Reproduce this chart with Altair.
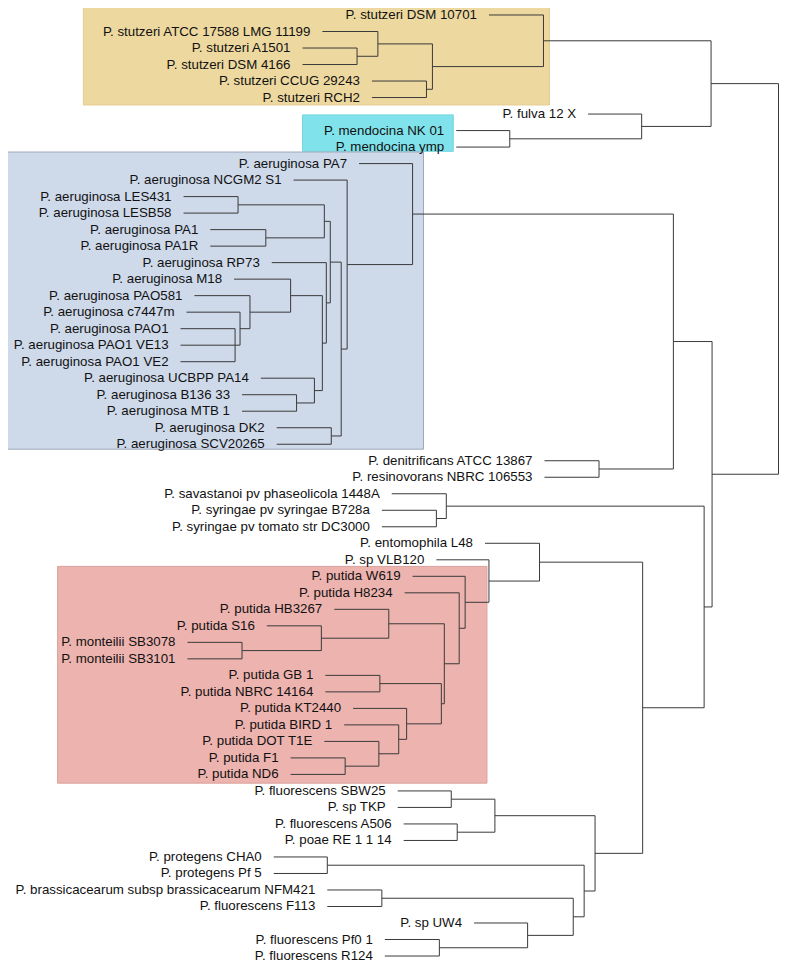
import altair as alt
import pandas as pd

# ---------------- data ----------------
# leaves, top to bottom
leaf_names = [
    "P. stutzeri DSM 10701", "P. stutzeri ATCC 17588 LMG 11199", "P. stutzeri A1501",
    "P. stutzeri DSM 4166", "P. stutzeri CCUG 29243", "P. stutzeri RCH2",
    "P. fulva 12 X", "P. mendocina NK 01", "P. mendocina ymp",
    "P. aeruginosa PA7", "P. aeruginosa NCGM2 S1", "P. aeruginosa LES431",
    "P. aeruginosa LESB58", "P. aeruginosa PA1", "P. aeruginosa PA1R",
    "P. aeruginosa RP73", "P. aeruginosa M18", "P. aeruginosa PAO581",
    "P. aeruginosa c7447m", "P. aeruginosa PAO1", "P. aeruginosa PAO1 VE13",
    "P. aeruginosa PAO1 VE2", "P. aeruginosa UCBPP PA14", "P. aeruginosa B136 33",
    "P. aeruginosa MTB 1", "P. aeruginosa DK2", "P. aeruginosa SCV20265",
    "P. denitrificans ATCC 13867", "P. resinovorans NBRC 106553",
    "P. savastanoi pv phaseolicola 1448A", "P. syringae pv syringae B728a",
    "P. syringae pv tomato str DC3000", "P. entomophila L48", "P. sp VLB120",
    "P. putida W619", "P. putida H8234", "P. putida HB3267", "P. putida S16",
    "P. monteilii SB3078", "P. monteilii SB3101", "P. putida GB 1",
    "P. putida NBRC 14164", "P. putida KT2440", "P. putida BIRD 1",
    "P. putida DOT T1E", "P. putida F1", "P. putida ND6",
    "P. fluorescens SBW25", "P. sp TKP", "P. fluorescens A506", "P. poae RE 1 1 14",
    "P. protegens CHA0", "P. protegens Pf 5",
    "P. brassicacearum subsp brassicacearum NFM421", "P. fluorescens F113",
    "P. sp UW4", "P. fluorescens Pf0 1", "P. fluorescens R124",
]
# distance of each leaf tip from the root
leaf_dist = [
    292, 460, 480, 480, 410, 410,
    192, 325, 325,
    423, 489, 600, 600, 573, 573, 511, 549, 589, 597, 603, 603, 603,
    522, 541, 541, 506, 506,
    236, 236,
    390, 400, 400, 296, 345,
    369, 377, 448, 516, 596, 596, 457, 457, 429, 438, 458, 492, 492,
    384, 384, 378, 378, 509, 509, 455, 455, 307, 397, 397,
]

# internal nodes: name, children, distance from root
node_names = [
    "s1", "s2", "s3", "s4", "s5", "m1", "m2", "top1",
    "a1", "a2", "a3", "a4", "a5", "a6", "a7", "a8", "a9", "a10", "a11",
    "a12", "a13", "a14", "a15", "a16", "d1", "b1",
    "y1", "y2",
    "p1", "p2", "p3", "p4", "p5", "p6", "p7", "p8", "p9", "p10", "p11", "p12", "p13", "p14",
    "f1", "f2", "f3", "f4", "f5", "f6", "f7", "f8", "f9", "f10",
    "g1", "g2", "b2", "root",
]
node_children = [
    ["P. stutzeri A1501", "P. stutzeri DSM 4166"],
    ["P. stutzeri ATCC 17588 LMG 11199", "s1"],
    ["P. stutzeri CCUG 29243", "P. stutzeri RCH2"],
    ["s2", "s3"],
    ["P. stutzeri DSM 10701", "s4"],
    ["P. mendocina NK 01", "P. mendocina ymp"],
    ["P. fulva 12 X", "m1"],
    ["s5", "m2"],
    ["P. aeruginosa LES431", "P. aeruginosa LESB58"],
    ["P. aeruginosa PA1", "P. aeruginosa PA1R"],
    ["a1", "a2"],
    ["P. aeruginosa PAO1", "P. aeruginosa PAO1 VE13", "P. aeruginosa PAO1 VE2"],
    ["P. aeruginosa c7447m", "a4"],
    ["P. aeruginosa PAO581", "a5"],
    ["P. aeruginosa M18", "a6"],
    ["P. aeruginosa B136 33", "P. aeruginosa MTB 1"],
    ["P. aeruginosa UCBPP PA14", "a8"],
    ["a7", "a9"],
    ["P. aeruginosa RP73", "a10"],
    ["a3", "a11"],
    ["P. aeruginosa DK2", "P. aeruginosa SCV20265"],
    ["a12", "a13"],
    ["P. aeruginosa NCGM2 S1", "a14"],
    ["P. aeruginosa PA7", "a15"],
    ["P. denitrificans ATCC 13867", "P. resinovorans NBRC 106553"],
    ["a16", "d1"],
    ["P. syringae pv syringae B728a", "P. syringae pv tomato str DC3000"],
    ["P. savastanoi pv phaseolicola 1448A", "y1"],
    ["P. monteilii SB3078", "P. monteilii SB3101"],
    ["P. putida S16", "p1"],
    ["P. putida HB3267", "p2"],
    ["P. putida GB 1", "P. putida NBRC 14164"],
    ["P. putida F1", "P. putida ND6"],
    ["P. putida DOT T1E", "p5"],
    ["P. putida BIRD 1", "p6"],
    ["P. putida KT2440", "p7"],
    ["p4", "p8"],
    ["p3", "p9"],
    ["P. putida H8234", "p10"],
    ["P. putida W619", "p11"],
    ["P. sp VLB120", "p12"],
    ["P. entomophila L48", "p13"],
    ["P. fluorescens SBW25", "P. sp TKP"],
    ["P. fluorescens A506", "P. poae RE 1 1 14"],
    ["f1", "f2"],
    ["P. protegens CHA0", "P. protegens Pf 5"],
    ["P. brassicacearum subsp brassicacearum NFM421", "P. fluorescens F113"],
    ["P. fluorescens Pf0 1", "P. fluorescens R124"],
    ["P. sp UW4", "f6"],
    ["f5", "f7"],
    ["f4", "f8"],
    ["f3", "f9"],
    ["p14", "f10"],
    ["y2", "g1"],
    ["b1", "g2"],
    ["top1", "b2"],
]
node_dist = [
    425, 404, 355, 349, 237, 271, 138, 68,
    545, 517, 458, 548, 543, 533, 492, 486, 468, 460, 456,
    452, 451, 441, 435, 369, 181, 106,
    345, 335,
    541, 461, 393, 402, 437, 403, 383, 375, 340, 337, 322, 316, 292, 241,
    330, 324, 286, 455, 400, 342, 253, 207, 196, 185,
    137, 75, 67, 0,
]

# shaded clade boxes: distance extents and leaf-row extents
box_names = ["stutzeri", "mendocina", "aeruginosa", "putida"]
box_far = [701, 480, 783, 727]
box_near = [231, 328, 358, 294]
box_top = [-0.8, 6.05, 8.3, 33.4]
box_bottom = [5.45, 8.26, 26.3, 46.53]
box_fill = ["#EDD89F", "#80E2EA", "#CED9EA", "#EDB3AF"]
box_stroke = ["#E3CC8E", "#74D6DE", "#9EA8BA", "#D9A19D"]

# ---------------- build the tree layout ----------------
pos = {}
for i, (n, d) in enumerate(zip(leaf_names, leaf_dist)):
    pos[n] = (d, float(i))
for n, ch, d in zip(node_names, node_children, node_dist):
    ys = [pos[c][1] for c in ch]
    pos[n] = (d, (min(ys) + max(ys)) / 2.0)

segs = []
for n, ch, d in zip(node_names, node_children, node_dist):
    ys = [pos[c][1] for c in ch]
    segs.append({"x": d, "x2": d, "y": min(ys), "y2": max(ys)})
    for c in ch:
        cd, cy = pos[c]
        segs.append({"x": cd, "x2": d, "y": cy, "y2": cy})
seg_df = pd.DataFrame(segs)

leaf_df = pd.DataFrame({"name": leaf_names, "d": leaf_dist,
                        "y": list(range(len(leaf_names)))})
box_df = pd.DataFrame({"name": box_names, "x": box_far, "x2": box_near,
                       "y": box_top, "y2": box_bottom,
                       "fill": box_fill, "stroke": box_stroke})

xscale = alt.Scale(domain=[-0.5, 777], reverse=True, nice=False, zero=False)
yscale = alt.Scale(domain=[-0.424, 57.423], reverse=True, nice=False, zero=False)

boxes = alt.Chart(box_df).mark_rect(clip=True, strokeWidth=1).encode(
    x=alt.X("x:Q", scale=xscale, axis=None),
    x2="x2:Q",
    y=alt.Y("y:Q", scale=yscale, axis=None),
    y2="y2:Q",
    fill=alt.Fill("fill:N", scale=None),
    stroke=alt.Stroke("stroke:N", scale=None),
)

lines = alt.Chart(seg_df).mark_rule(color="#3a3a3a", strokeWidth=1).encode(
    x=alt.X("x:Q", scale=xscale, axis=None),
    x2="x2:Q",
    y=alt.Y("y:Q", scale=yscale, axis=None),
    y2="y2:Q",
)

labels = alt.Chart(leaf_df).mark_text(
    align="right", baseline="middle", dx=-12, fontSize=13.3,
    font="Liberation Sans", color="#111111",
).encode(
    x=alt.X("d:Q", scale=xscale, axis=None),
    y=alt.Y("y:Q", scale=yscale, axis=None),
    text="name:N",
)

chart = alt.layer(boxes, lines, labels).properties(
    width=771, height=955, padding=0,
    autosize=alt.AutoSizeParams(type="none"),
).configure_view(stroke=None)

chart.save("out.html", embed_options={"renderer": "svg", "actions": False})
